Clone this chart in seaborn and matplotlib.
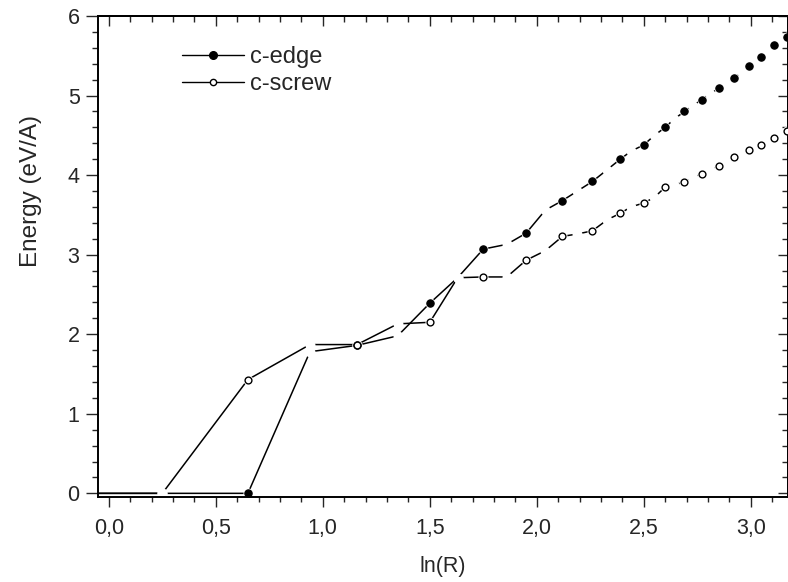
import numpy as np
import pandas as pd
import seaborn as sns
import matplotlib.pyplot as plt
from matplotlib.lines import Line2D
from matplotlib.ticker import MultipleLocator, FuncFormatter, NullFormatter

# data: ln(R) and energies (eV/A)
ln_r = [-0.45, 0.25, 0.65, 0.94, 1.16, 1.35, 1.50, 1.63, 1.75, 1.86, 1.95, 2.04,
        2.12, 2.19, 2.26, 2.33, 2.39, 2.44, 2.50, 2.55, 2.60, 2.64, 2.69, 2.73,
        2.77, 2.81, 2.85, 2.89, 2.92, 2.96, 2.99, 3.02, 3.05, 3.08, 3.11, 3.14, 3.17]
c_edge = [0.0, 0.0, 0.0, 1.78, 1.86, 1.98, 2.39, 2.71, 3.07, 3.13, 3.27, 3.56,
          3.68, 3.80, 3.92, 4.07, 4.20, 4.30, 4.38, 4.50, 4.60, 4.70, 4.80, 4.87,
          4.95, 5.02, 5.09, 5.15, 5.22, 5.29, 5.37, 5.43, 5.49, 5.55, 5.63, 5.67, 5.73]
c_screw = [0.0, 0.0, 1.43, 1.87, 1.87, 2.13, 2.15, 2.71, 2.72, 2.72, 2.93, 3.05,
           3.23, 3.26, 3.30, 3.44, 3.52, 3.60, 3.65, 3.72, 3.85, 3.88, 3.91, 3.96,
           4.02, 4.06, 4.11, 4.17, 4.23, 4.27, 4.32, 4.35, 4.38, 4.42, 4.47, 4.51, 4.55]

df = pd.DataFrame({'lnR': ln_r, 'edge': c_edge, 'screw': c_screw})
shown = df.iloc[::2]  # symbols are drawn on every other point

sns.set_theme(style='white')
plt.rcParams['font.family'] = ['Liberation Sans', 'DejaVu Sans']
plt.rcParams['font.size'] = 15.5

fig = plt.figure(figsize=(7.88, 5.82), dpi=100)
ax = fig.add_axes([0.1248, 0.1455, 0.8752, 0.827])

# lines
sns.lineplot(data=df, x='lnR', y='edge', sort=False, estimator=None,
             color='black', lw=1.1, ax=ax, zorder=2)
sns.lineplot(data=df, x='lnR', y='screw', sort=False, estimator=None,
             color='black', lw=1.1, ax=ax, zorder=2)

# white blobs make the gaps in the lines around every point
for col in ['edge', 'screw']:
    sns.scatterplot(data=df, x='lnR', y=col, s=52, color='white',
                    linewidth=0, ax=ax, zorder=2.2)

# symbols
sns.scatterplot(data=shown, x='lnR', y='edge', s=28, color='black',
                edgecolor='black', linewidth=0.8, ax=ax, zorder=3)
sns.scatterplot(data=shown, x='lnR', y='screw', s=24, color='white',
                edgecolor='black', linewidth=1.0, ax=ax, zorder=3.1)

ax.set_xlim(-0.049, 3.174)
ax.set_ylim(-0.05, 6.0)

ax.xaxis.set_major_locator(MultipleLocator(0.5))
ax.xaxis.set_minor_locator(MultipleLocator(0.1))
ax.yaxis.set_major_locator(MultipleLocator(1))
ax.yaxis.set_minor_locator(MultipleLocator(0.2))
ax.xaxis.set_major_formatter(FuncFormatter(lambda v, p: f'{v:.1f}'.replace('.', ',')))
ax.yaxis.set_major_formatter(FuncFormatter(lambda v, p: f'{v:.0f}'))

ax.tick_params(axis='x', which='major', direction='out', length=7, width=1.0,
               pad=8, labelsize=15.5, bottom=True)
ax.tick_params(axis='x', which='minor', direction='out', length=3.5, width=1.0, bottom=True)
ax.tick_params(axis='y', which='major', direction='out', length=8.5, width=1.0,
               pad=5, labelsize=15.5, left=True)
ax.tick_params(axis='y', which='minor', direction='out', length=4.5, width=1.0, left=True)

# mirrored ticks pointing inwards on top and right
top = ax.secondary_xaxis('top')
top.xaxis.set_major_locator(MultipleLocator(0.5))
top.xaxis.set_minor_locator(MultipleLocator(0.1))
top.xaxis.set_major_formatter(NullFormatter())
top.tick_params(which='major', direction='in', length=7, width=1.0)
top.tick_params(which='minor', direction='in', length=4, width=1.0)
right = ax.secondary_yaxis('right')
right.yaxis.set_major_locator(MultipleLocator(1))
right.yaxis.set_minor_locator(MultipleLocator(0.2))
right.yaxis.set_major_formatter(NullFormatter())
right.tick_params(which='major', direction='in', length=7, width=1.0)
right.tick_params(which='minor', direction='in', length=4, width=1.0)

for sp in ax.spines.values():
    sp.set_color('black')
    sp.set_linewidth(1.4)
for a in [top, right]:
    for sp in a.spines.values():
        sp.set_color('black')
        sp.set_linewidth(1.4)

ax.set_xlabel('ln(R)', fontsize=15.5, labelpad=12)
ax.set_ylabel('Energy (eV/A)', fontsize=17.5)
ax.yaxis.set_label_coords(-0.081, 0.636)

handles = [
    Line2D([], [], color='black', lw=1.0, marker='o', markersize=5.5,
           markerfacecolor='black', markeredgecolor='black'),
    Line2D([], [], color='black', lw=1.0, marker='o', markersize=4.5,
           markerfacecolor='white', markeredgecolor='black'),
]
ax.legend(handles, ['c-edge', 'c-screw'], loc='upper left',
          bbox_to_anchor=(0.121, 0.937), frameon=False, fontsize=17,
          handlelength=2.65, handletextpad=0.22, labelspacing=0.2,
          borderpad=0, borderaxespad=0)

fig.savefig('out.png', dpi=100, facecolor='white')
